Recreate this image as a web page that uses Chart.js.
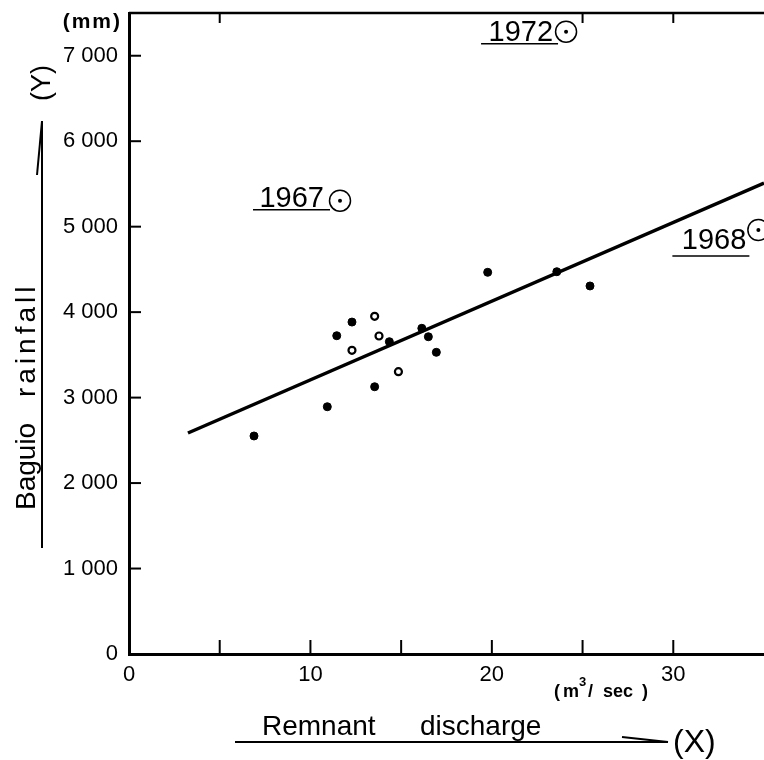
<!DOCTYPE html>
<html><head><meta charset="utf-8">
<script src="https://cdn.jsdelivr.net/npm/chart.js@4.4.1/dist/chart.umd.min.js"></script>
<style>html,body{margin:0;padding:0;background:#fff;overflow:hidden}#wrap{width:764px;height:760px;position:relative}canvas{display:block}</style>
</head><body><div id="wrap"><canvas id="c"></canvas></div>
<script>
// ---- data ----
const filledX = [6.89, 10.93, 11.45, 12.29, 13.54, 14.35, 16.14, 16.5, 16.94, 19.77, 23.58, 25.41];
const filledY = [2551, 2893, 3724, 3884, 3127, 3654, 3811, 3712, 3530, 4466, 4473, 4306];
const openX = [12.29, 13.54, 13.78, 14.85];
const openY = [3553, 3951, 3721, 3303];
const yearLabels = ['1967', '1968', '1972'];
const yearX = [11.63, 34.69, 24.09];
const yearY = [5304, 4961, 7281];
const lineX = [3.25, 35];
const lineY = [2586, 5511];
const xTickValues = [0, 5, 10, 15, 20, 25, 30];
const xTickLabels = ['0', '', '10', '', '20', '', '30'];
const yTickValues = [0, 1000, 2000, 3000, 4000, 5000, 6000, 7000];
const yTickLabels = ['0', '1 000', '2 000', '3 000', '4 000', '5 000', '6 000', '7 000'];
const xTopTicks = [5, 25, 30];
const xTitleWords = ['Remnant', 'discharge'];
const yTitleWords = ['Baguio', 'rainfall'];

const pts = (xs, ys) => xs.map((x, i) => ({x, y: ys[i]}));
const findIdx = (arr, v) => arr.findIndex(t => Math.abs(t - v) < 1e-6);

const bgPlugin = {
  id: 'bg',
  beforeDraw(chart) {
    const c = chart.ctx; c.save(); c.fillStyle = '#fff';
    c.fillRect(0, 0, chart.width, chart.height); c.restore();
  }
};

const labelOffsets = {
  '1967': {tx: -16, ty: 6, u0: -87, u1: -10, uy: 9},
  '1968': {tx: -12, ty: 19, u0: -86, u1: -9, uy: 26},
  '1972': {tx: -13, ty: 9, u0: -85, u1: -8, uy: 12}
};

const decoPlugin = {
  id: 'deco',
  afterDraw(chart) {
    const c = chart.ctx, xs = chart.scales.x, ys = chart.scales.y, ca = chart.chartArea;
    const line = (x1, y1, x2, y2) => { c.beginPath(); c.moveTo(x1, y1); c.lineTo(x2, y2); c.stroke(); };
    c.save();
    c.strokeStyle = '#000'; c.fillStyle = '#000';
    // inward ticks (from the library's scale ticks)
    c.lineWidth = 2;
    ys.ticks.forEach(t => { if (t.value === 0) return; const py = ys.getPixelForValue(t.value); line(ca.left, py, ca.left + 12, py); });
    xs.ticks.forEach(t => { if (t.value === 0) return; const px = xs.getPixelForValue(t.value); line(px, ca.bottom, px, ca.bottom - 14); });
    // top frame
    c.lineWidth = 2.5;
    line(ca.left, ca.top, ca.right, ca.top);
    c.lineWidth = 2;
    xTopTicks.forEach(v => { const px = xs.getPixelForValue(v); line(px, ca.top, px, ca.top + 10); });

    // year labels
    c.font = '29px "Liberation Sans", Arial, sans-serif';
    c.textAlign = 'right'; c.textBaseline = 'alphabetic';
    yearLabels.forEach((lab, i) => {
      const px = xs.getPixelForValue(yearX[i]), py = ys.getPixelForValue(yearY[i]);
      const o = labelOffsets[lab];
      c.fillText(lab, px + o.tx, py + o.ty);
      c.lineWidth = 1.5;
      line(px + o.u0, py + o.uy, px + o.u1, py + o.uy);
    });

    // Y axis title (rotated) with half-arrow underline
    c.lineWidth = 2;
    line(42, 548, 42, 121);
    line(42, 121, 37, 175);
    c.save();
    c.translate(35, 510); c.rotate(-Math.PI / 2);
    c.textAlign = 'left';
    c.font = '28px "Liberation Sans", Arial, sans-serif';
    c.fillText(yTitleWords[0], 0, 0);
    c.letterSpacing = '4px';
    c.fillText(yTitleWords[1], 113, 0);
    c.restore();
    c.save();
    c.translate(50, 83); c.rotate(-Math.PI / 2);
    c.textAlign = 'center';
    c.font = '27px "Liberation Sans", Arial, sans-serif';
    c.fillText('(Y)', 0, 0);
    c.restore();
    // (mm)
    c.save();
    c.font = 'bold 21px "Liberation Sans", Arial, sans-serif';
    c.letterSpacing = '2px';
    c.textAlign = 'right';
    c.fillText('(mm)', 122, 28);
    c.restore();

    // X axis title with half-arrow underline
    c.font = '28px "Liberation Sans", Arial, sans-serif';
    c.textAlign = 'left';
    c.fillText(xTitleWords[0], 262, 735);
    c.fillText(xTitleWords[1], 420, 735);
    c.lineWidth = 2;
    line(235, 742, 668, 742);
    line(622, 737, 668, 742);
    c.font = '32px "Liberation Sans", Arial, sans-serif';
    c.fillText('(X)', 673, 752);
    // unit (m3/sec)
    c.font = 'bold 18px "Liberation Sans", Arial, sans-serif';
    c.fillText('(', 554, 697);
    c.fillText('m', 563, 697);
    c.font = 'bold 13px "Liberation Sans", Arial, sans-serif';
    c.fillText('3', 579, 686);
    c.font = 'bold 18px "Liberation Sans", Arial, sans-serif';
    c.fillText('/', 588, 697);
    c.fillText('sec', 603, 697);
    c.fillText(')', 642, 697);
    c.restore();
  }
};

new Chart(document.getElementById('c'), {
  type: 'scatter',
  data: {
    datasets: [
      {label: 'regression', order: 4, data: pts(lineX, lineY), showLine: true, borderColor: '#000', borderWidth: 3.5, pointRadius: 0, fill: false},
      {label: 'filled', order: 3, data: pts(filledX, filledY), pointRadius: 4, pointBackgroundColor: '#000', pointBorderColor: '#000', pointBorderWidth: 1},
      {label: 'open', order: 2, data: pts(openX, openY), pointRadius: 3.5, pointBackgroundColor: '#fff', pointBorderColor: '#000', pointBorderWidth: 2.2},
      {label: 'years', order: 1, data: pts(yearX, yearY), pointRadius: 10.5, pointBackgroundColor: '#fff', pointBorderColor: '#000', pointBorderWidth: 1.5},
      {label: 'yearsDot', order: 0, data: pts(yearX, yearY), pointRadius: 2, pointBackgroundColor: '#000', pointBorderColor: '#000', pointBorderWidth: 0}
    ]
  },
  options: {
    responsive: true, maintainAspectRatio: false, animation: false,
    layout: {autoPadding: false, padding: {top: 13, right: 0, left: 0, bottom: 0}},
    plugins: {legend: {display: false}, tooltip: {enabled: false}},
    scales: {
      x: {
        type: 'linear', min: 0, max: 35,
        grid: {display: false, drawTicks: false},
        border: {display: true, color: '#000', width: 3},
        afterBuildTicks: s => { s.ticks = xTickValues.map(v => ({value: v})); },
        ticks: {
          color: '#000', padding: 8, maxRotation: 0, autoSkip: false,
          font: {family: '"Liberation Sans", Arial, sans-serif', size: 22},
          callback: v => { const k = findIdx(xTickValues, v); return k >= 0 ? xTickLabels[k] : ''; }
        },
        afterFit: s => { s.height = 106; s.paddingRight = 0; }
      },
      y: {
        type: 'linear', min: 0, max: 7500,
        grid: {display: false, drawTicks: false},
        border: {display: true, color: '#000', width: 3},
        afterBuildTicks: s => { s.ticks = yTickValues.map(v => ({value: v})); },
        ticks: {
          color: '#000', padding: 11, autoSkip: false,
          font: {family: '"Liberation Sans", Arial, sans-serif', size: 22},
          callback: v => { const k = findIdx(yTickValues, v); return k >= 0 ? yTickLabels[k] : ''; }
        },
        afterFit: s => { s.width = 129; s.paddingTop = 0; s.paddingBottom = 0; }
      }
    }
  },
  plugins: [bgPlugin, decoPlugin]
});
</script>
</body></html>
